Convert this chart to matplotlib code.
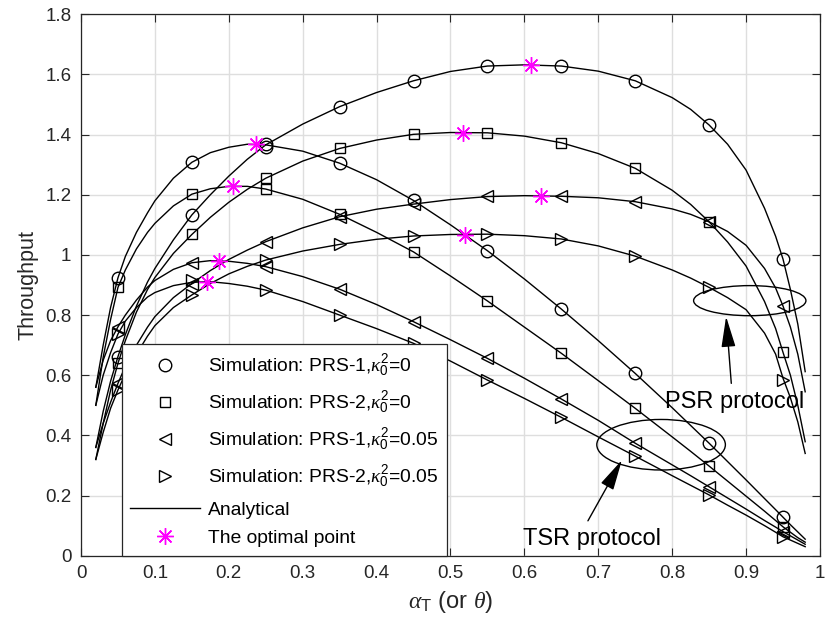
import matplotlib
matplotlib.use("Agg")
import matplotlib.pyplot as plt
from matplotlib.lines import Line2D
from matplotlib.patches import Ellipse

plt.rcParams['font.family'] = ['Liberation Sans', 'DejaVu Sans']
plt.rcParams['mathtext.fontset'] = 'custom'
plt.rcParams['mathtext.rm'] = 'Liberation Sans'
plt.rcParams['mathtext.it'] = 'Liberation Serif:italic'
plt.rcParams['mathtext.bf'] = 'Liberation Sans:bold'

# ---------------- data ----------------
x_sim = [0.05, 0.15, 0.25, 0.35, 0.45, 0.55, 0.65, 0.75, 0.85, 0.95]

# simulation markers (TSR = time switching, PSR = power splitting)
tsr_prs1_k0_sim = [0.924, 1.308, 1.359, 1.305, 1.181, 1.014, 0.820, 0.606, 0.374, 0.128]
psr_prs1_k0_sim = [0.662, 1.133, 1.368, 1.493, 1.579, 1.628, 1.628, 1.579, 1.432, 0.986]
tsr_prs2_k0_sim = [0.892, 1.202, 1.219, 1.135, 1.010, 0.847, 0.673, 0.490, 0.298, 0.096]
psr_prs2_k0_sim = [0.640, 1.068, 1.255, 1.354, 1.401, 1.406, 1.373, 1.288, 1.110, 0.676]
tsr_prs1_k05_sim = [0.761, 0.974, 0.961, 0.886, 0.778, 0.656, 0.521, 0.374, 0.229, 0.080]
psr_prs1_k05_sim = [0.573, 0.905, 1.044, 1.127, 1.169, 1.196, 1.196, 1.177, 1.110, 0.830]
tsr_prs2_k05_sim = [0.737, 0.917, 0.883, 0.800, 0.706, 0.584, 0.460, 0.331, 0.202, 0.063]
psr_prs2_k05_sim = [0.551, 0.867, 0.983, 1.035, 1.063, 1.070, 1.053, 0.996, 0.892, 0.584]

# analytical curves
x_ana = [0.02, 0.03, 0.04, 0.05, 0.06, 0.075, 0.09, 0.1, 0.125, 0.15, 0.175, 0.2, 0.225, 0.25,
         0.3, 0.35, 0.4, 0.45, 0.5, 0.55, 0.6, 0.65, 0.7, 0.75, 0.8, 0.825, 0.85,
         0.875, 0.9, 0.925, 0.94, 0.95, 0.96, 0.97, 0.98]
tsr_prs1_k0_ana = [0.56, 0.70, 0.825, 0.924, 0.995, 1.075, 1.140, 1.180, 1.255, 1.308, 1.340, 1.358, 1.368, 1.366,
                   1.345, 1.305, 1.250, 1.181, 1.100, 1.014, 0.920, 0.820, 0.715, 0.606, 0.492, 0.433, 0.374,
                   0.313, 0.252, 0.190, 0.153, 0.128, 0.103, 0.079, 0.055]
tsr_prs2_k0_ana = [0.50, 0.66, 0.785, 0.892, 0.950, 1.020, 1.075, 1.105, 1.163, 1.202, 1.220, 1.228, 1.228, 1.219,
                   1.185, 1.135, 1.075, 1.010, 0.930, 0.847, 0.760, 0.673, 0.582, 0.490, 0.395, 0.347, 0.298,
                   0.248, 0.198, 0.148, 0.117, 0.096, 0.078, 0.060, 0.045]
tsr_prs1_k05_ana = [0.56, 0.65, 0.715, 0.761, 0.800, 0.850, 0.893, 0.915, 0.952, 0.974, 0.981, 0.979, 0.972, 0.961,
                    0.928, 0.886, 0.835, 0.778, 0.718, 0.656, 0.590, 0.521, 0.450, 0.374, 0.302, 0.266, 0.229,
                    0.192, 0.155, 0.117, 0.095, 0.080, 0.066, 0.052, 0.038]
tsr_prs2_k05_ana = [0.50, 0.60, 0.675, 0.737, 0.780, 0.825, 0.860, 0.875, 0.898, 0.909, 0.911, 0.905, 0.896, 0.883,
                    0.845, 0.800, 0.755, 0.706, 0.647, 0.584, 0.523, 0.460, 0.395, 0.331, 0.266, 0.234, 0.202,
                    0.168, 0.135, 0.100, 0.078, 0.063, 0.052, 0.041, 0.030]
psr_prs1_k0_ana = [0.36, 0.48, 0.58, 0.662, 0.735, 0.830, 0.910, 0.955, 1.050, 1.133, 1.200, 1.262, 1.318, 1.366,
                   1.435, 1.493, 1.540, 1.579, 1.610, 1.628, 1.632, 1.628, 1.611, 1.579, 1.523, 1.484, 1.432,
                   1.368, 1.282, 1.155, 1.062, 0.986, 0.885, 0.770, 0.612]
psr_prs2_k0_ana = [0.32, 0.44, 0.55, 0.640, 0.715, 0.810, 0.885, 0.925, 1.005, 1.068, 1.125, 1.175, 1.218, 1.255,
                   1.312, 1.354, 1.382, 1.401, 1.407, 1.406, 1.395, 1.373, 1.337, 1.288, 1.215, 1.168, 1.110,
                   1.043, 0.963, 0.845, 0.755, 0.676, 0.600, 0.500, 0.379]
psr_prs1_k05_ana = [0.36, 0.44, 0.51, 0.573, 0.630, 0.700, 0.760, 0.795, 0.858, 0.905, 0.948, 0.985, 1.016, 1.044,
                    1.090, 1.127, 1.152, 1.169, 1.184, 1.194, 1.197, 1.195, 1.190, 1.177, 1.153, 1.135, 1.110,
                    1.078, 1.032, 0.955, 0.890, 0.830, 0.760, 0.670, 0.545]
psr_prs2_k05_ana = [0.32, 0.41, 0.49, 0.551, 0.605, 0.670, 0.730, 0.765, 0.825, 0.867, 0.905, 0.937, 0.962, 0.983,
                    1.013, 1.035, 1.052, 1.063, 1.068, 1.069, 1.064, 1.053, 1.030, 0.996, 0.950, 0.923, 0.892,
                    0.858, 0.818, 0.740, 0.670, 0.590, 0.525, 0.445, 0.340]

# optimal points
x_opt = [0.237, 0.206, 0.187, 0.171, 0.609, 0.517, 0.622, 0.519]
y_opt = [1.369, 1.229, 0.981, 0.911, 1.631, 1.406, 1.196, 1.067]

legend_labels = [r'Simulation: PRS-1,$\kappa_0^2$=0',
                 r'Simulation: PRS-2,$\kappa_0^2$=0',
                 r'Simulation: PRS-1,$\kappa_0^2$=0.05',
                 r'Simulation: PRS-2,$\kappa_0^2$=0.05',
                 'Analytical',
                 'The optimal point']
x_ticks = [0, 0.1, 0.2, 0.3, 0.4, 0.5, 0.6, 0.7, 0.8, 0.9, 1]
y_ticks = [0, 0.2, 0.4, 0.6, 0.8, 1.0, 1.2, 1.4, 1.6, 1.8]

# ---------------- plot ----------------
fig = plt.figure(figsize=(8.25, 6.33), dpi=100)
ax = fig.add_axes([0.0982, 0.1221, 0.8957, 0.8553])

axcol = '#262626'
ms = 9
lw = 1.0

for y in [tsr_prs1_k0_ana, tsr_prs2_k0_ana, tsr_prs1_k05_ana, tsr_prs2_k05_ana,
          psr_prs1_k0_ana, psr_prs2_k0_ana, psr_prs1_k05_ana, psr_prs2_k05_ana]:
    ax.plot(x_ana, y, '-', color='k', lw=lw, zorder=3)

sim_sets = [(tsr_prs1_k0_sim, 'o', ms), (psr_prs1_k0_sim, 'o', ms),
            (tsr_prs2_k0_sim, 's', ms * 0.75), (psr_prs2_k0_sim, 's', ms * 0.75),
            (tsr_prs1_k05_sim, '<', ms), (psr_prs1_k05_sim, '<', ms),
            (tsr_prs2_k05_sim, '>', ms), (psr_prs2_k05_sim, '>', ms)]
for y, m, s in sim_sets:
    ax.plot(x_sim, y, ls='none', marker=m, ms=s, mfc='none', mec='k', mew=1.0, zorder=4)

ax.plot(x_opt, y_opt, ls='none', marker=(8, 2, 0), ms=12, mec='#ff00ff', mew=1.0, zorder=5)

# annotations
ax.add_patch(Ellipse((0.905, 0.848), 0.152, 0.100, fill=False, ec='k', lw=1.0, zorder=6))
ax.add_patch(Ellipse((0.785, 0.369), 0.174, 0.168, fill=False, ec='k', lw=1.0, zorder=6))
arrow_kw = dict(arrowstyle='-|>,head_length=0.95,head_width=0.22', mutation_scale=20,
                color='k', lw=1.0, shrinkA=0, shrinkB=0)
ax.annotate('', xy=(0.873, 0.795), xytext=(0.880, 0.573), arrowprops=arrow_kw, zorder=7)
ax.annotate('', xy=(0.732, 0.318), xytext=(0.686, 0.116), arrowprops=arrow_kw, zorder=7)
ax.text(0.885, 0.49, 'PSR protocol', fontsize=17, ha='center', va='baseline', zorder=7)
ax.text(0.692, 0.036, 'TSR protocol', fontsize=17, ha='center', va='baseline', zorder=7)

ax.set_xlim(0, 1)
ax.set_ylim(0, 1.8)
ax.set_xticks(x_ticks)
ax.set_yticks(y_ticks)
ax.set_xticklabels(['%g' % v for v in x_ticks])
ax.set_yticklabels(['%g' % v for v in y_ticks])
ax.tick_params(direction='in', length=6, width=0.8, top=True, right=True,
               labelsize=13.5, colors=axcol, pad=7)
for sp in ax.spines.values():
    sp.set_color(axcol)
    sp.set_linewidth(0.9)
ax.grid(True, color='#dedede', lw=1.0, zorder=0)
ax.set_axisbelow(True)

ax.set_xlabel(r'$\alpha_{\rm T}$ (or $\theta$)', fontsize=17, color=axcol)
ax.set_ylabel('Throughput', fontsize=15.5, color=axcol)
ax.xaxis.set_label_coords(0.5, -0.062)
ax.yaxis.set_label_coords(-0.057, 0.5)

handles = [Line2D([], [], ls='none', marker='o', ms=ms, mfc='none', mec='k'),
           Line2D([], [], ls='none', marker='s', ms=ms * 0.75, mfc='none', mec='k'),
           Line2D([], [], ls='none', marker='<', ms=ms, mfc='none', mec='k'),
           Line2D([], [], ls='none', marker='>', ms=ms, mfc='none', mec='k'),
           Line2D([], [], ls='-', color='k', lw=lw),
           Line2D([], [], ls='none', marker=(8, 2, 0), ms=12, mec='#ff00ff', mew=1.0)]
leg = ax.legend(handles, legend_labels, loc='lower left', bbox_to_anchor=(0.055, 0.0),
                borderaxespad=0, fontsize=13.9, handlelength=3.6, handletextpad=0.4,
                labelspacing=0.56, borderpad=0.45, frameon=True, fancybox=False,
                framealpha=1, edgecolor=axcol)
leg.get_frame().set_linewidth(0.9)
leg.set_zorder(10)

fig.savefig('out.png', dpi=100)
